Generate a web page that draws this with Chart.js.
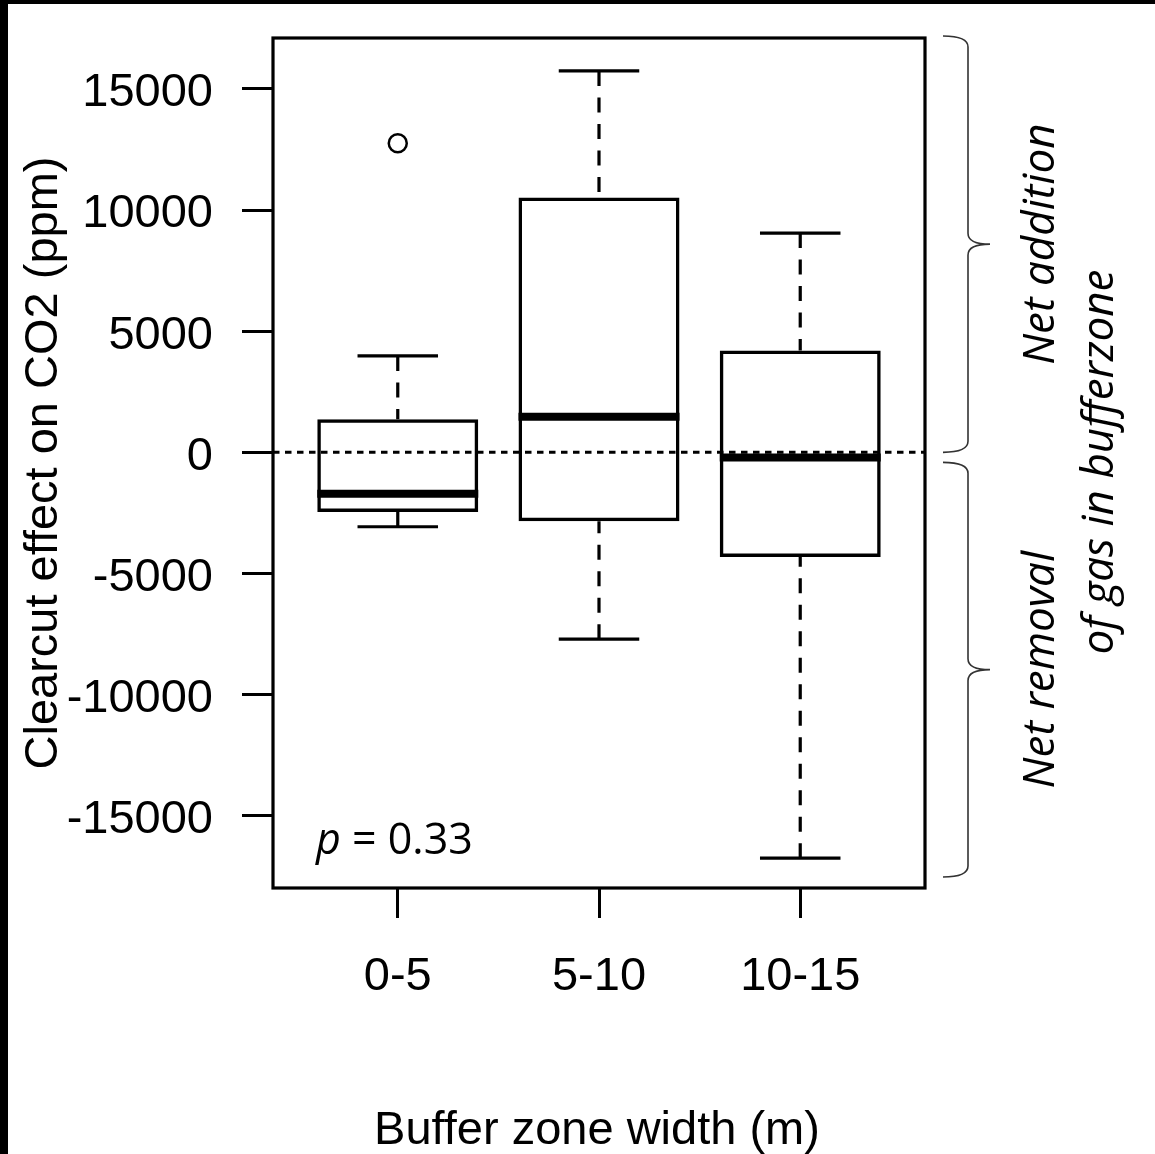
<!DOCTYPE html>
<html>
<head>
<meta charset="utf-8">
<title>Clearcut effect on CO2</title>
<script src="https://cdn.jsdelivr.net/npm/chart.js@4.4.1/dist/chart.umd.min.js"></script>
<style>
  html, body { margin: 0; padding: 0; background: #fff; }
  canvas { display: block; }
</style>
</head>
<body>
<canvas id="boxChart" width="1155" height="1154"></canvas>
<script>
// values (ppm)
var categories = ['0-5', '5-10', '10-15'];
var whiskerLow = [-3070, -7710, -16750];
var q1 = [-2460, -2840, -4320];
var medians = [-1710, 1470, -210];
var q3 = [1370, 10520, 4200];
var whiskerHigh = [3980, 15740, 9050];
var outlierGroup = [1];
var outlierValue = [12760];
var yTicks = [-15000, -10000, -5000, 0, 5000, 10000, 15000];

var axisFont = 'Liberation Sans, Arial, sans-serif';
var noteFont = '"Open Sans", "Noto Sans", sans-serif';

function seg(ctx, x1, y1, x2, y2) {
    ctx.beginPath();
    ctx.moveTo(x1, y1);
    ctx.lineTo(x2, y2);
    ctx.stroke();
}

function brace(ctx, x0, xv, xt, yTop, yBot) {
    var r = 11;
    var yTip = (yTop + yBot) / 2;
    ctx.beginPath();
    ctx.moveTo(x0, yTop);
    ctx.quadraticCurveTo(xv, yTop, xv, yTop + r);
    ctx.lineTo(xv, yTip - r);
    ctx.quadraticCurveTo(xv, yTip, xt, yTip);
    ctx.quadraticCurveTo(xv, yTip, xv, yTip + r);
    ctx.lineTo(xv, yBot - r);
    ctx.quadraticCurveTo(xv, yBot, x0, yBot);
    ctx.stroke();
}

function noPadding(s) {
    s.paddingTop = 0;
    s.paddingBottom = 0;
    s.paddingLeft = 0;
    s.paddingRight = 0;
}

// page background with the black edge of the original scan
var background = {
    id: 'background',
    beforeDraw: function (chart) {
        var ctx = chart.ctx;
        ctx.save();
        ctx.fillStyle = '#fff';
        ctx.fillRect(0, 0, chart.width, chart.height);
        ctx.fillStyle = '#000';
        ctx.fillRect(0, 0, chart.width, 4);
        ctx.fillRect(0, 0, 8, chart.height);
        ctx.restore();
    }
};

// whiskers, caps, medians and the zero line
var boxParts = {
    id: 'boxParts',
    afterDatasetsDraw: function (chart) {
        var ctx = chart.ctx;
        var x = chart.scales.x, y = chart.scales.y;
        var bars = chart.getDatasetMeta(0).data;
        ctx.save();
        ctx.strokeStyle = '#000';
        ctx.lineCap = 'butt';
        categories.forEach(function (c, i) {
            var cx = x.getPixelForValue(i + 1);
            var half = bars[i].width / 2;
            var yHi = y.getPixelForValue(whiskerHigh[i]);
            var yLo = y.getPixelForValue(whiskerLow[i]);
            ctx.lineWidth = 3.2;
            ctx.setLineDash([15, 11.5]);
            seg(ctx, cx, yHi, cx, y.getPixelForValue(q3[i]));
            seg(ctx, cx, yLo, cx, y.getPixelForValue(q1[i]));
            ctx.setLineDash([]);
            seg(ctx, cx - half / 2, yHi, cx + half / 2, yHi);
            seg(ctx, cx - half / 2, yLo, cx + half / 2, yLo);
            ctx.lineWidth = 8;
            var ym = y.getPixelForValue(medians[i]);
            seg(ctx, cx - half, ym, cx + half, ym);
        });
        var area = chart.chartArea;
        var y0 = y.getPixelForValue(0);
        ctx.lineWidth = 3;
        ctx.setLineDash([6.5, 5.5]);
        seg(ctx, area.left, y0, area.right, y0);
        ctx.restore();
    }
};

// frame, axis titles, p value and the side notes
var annotations = {
    id: 'annotations',
    afterDraw: function (chart) {
        var ctx = chart.ctx;
        var area = chart.chartArea;
        var y0 = chart.scales.y.getPixelForValue(0);
        ctx.save();
        ctx.strokeStyle = '#000';
        ctx.lineWidth = 3.2;
        ctx.strokeRect(area.left, area.top, area.right - area.left, area.bottom - area.top);

        ctx.fillStyle = '#000';
        ctx.font = '47px ' + axisFont;
        ctx.textAlign = 'center';
        ctx.textBaseline = 'alphabetic';
        ctx.fillText('Buffer zone width (m)', 597, 1144);

        ctx.save();
        ctx.translate(57, (area.top + area.bottom) / 2);
        ctx.rotate(-Math.PI / 2);
        ctx.fillText('Clearcut effect on CO2 (ppm)', 0, 0);
        ctx.restore();

        // p = 0.33
        ctx.textAlign = 'left';
        var px = area.left + 43, py = area.bottom - 34;
        ctx.font = 'italic 43px ' + noteFont;
        ctx.fillText('p', px, py);
        var w = ctx.measureText('p').width;
        ctx.font = '43px ' + noteFont;
        ctx.fillText(' = 0.33', px + w, py);

        // braces
        ctx.strokeStyle = '#333';
        ctx.lineWidth = 1.6;
        brace(ctx, area.right + 18, area.right + 43, area.right + 65, area.top - 2, y0);
        brace(ctx, area.right + 18, area.right + 43, area.right + 65, y0 + 10, area.bottom - 11);

        ctx.font = 'italic 44px ' + noteFont;
        ctx.textAlign = 'center';
        var notes = [
            ['Net addition', 1054, (area.top - 2 + y0) / 2],
            ['of gas in bufferzone', 1113, 462],
            ['Net removal', 1054, (y0 + 10 + area.bottom - 11) / 2]
        ];
        notes.forEach(function (n) {
            ctx.save();
            ctx.translate(n[1], n[2]);
            ctx.rotate(-Math.PI / 2);
            ctx.fillText(n[0], 0, 0);
            ctx.restore();
        });
        ctx.restore();
    }
};

var ctx = document.getElementById('boxChart').getContext('2d');
var boxChart = new Chart(ctx, {
    type: 'bar',
    data: {
        datasets: [{
            type: 'bar',
            data: categories.map(function (c, i) { return { x: i + 1, y: [q1[i], q3[i]] }; }),
            backgroundColor: 'rgba(0,0,0,0)',
            borderColor: '#000',
            borderWidth: 3.5,
            borderSkipped: false,
            barPercentage: 0.8,
            categoryPercentage: 1.0,
            order: 2
        }, {
            type: 'scatter',
            data: outlierGroup.map(function (g, i) { return { x: g, y: outlierValue[i] }; }),
            pointStyle: 'circle',
            pointRadius: 9,
            borderWidth: 2.5,
            borderColor: '#000',
            backgroundColor: 'rgba(0,0,0,0)',
            order: 1
        }]
    },
    options: {
        responsive: false,
        animation: false,
        events: [],
        layout: { padding: { left: 0, top: 38, right: 230, bottom: 0 } },
        plugins: { legend: { display: false }, tooltip: { enabled: false } },
        scales: {
            x: {
                type: 'linear',
                offset: false,
                min: 0.38,
                max: 3.62,
                afterBuildTicks: function (s) {
                    s.ticks = categories.map(function (c, i) { return { value: i + 1 }; });
                },
                afterFit: function (s) { s.height = 266; noPadding(s); },
                ticks: {
                    callback: function (v, i) { return categories[i]; },
                    font: { family: axisFont, size: 47 },
                    color: '#000',
                    padding: 31,
                    maxRotation: 0,
                    autoSkip: false
                },
                grid: { offset: false, drawOnChartArea: false, drawTicks: true, tickLength: 30, tickWidth: 3, tickColor: '#000' },
                border: { display: false }
            },
            y: {
                min: -17980,
                max: 17100,
                afterBuildTicks: function (s) {
                    s.ticks = yTicks.map(function (v) { return { value: v }; });
                },
                afterFit: function (s) { s.width = 273; noPadding(s); },
                ticks: {
                    callback: function (v) { return String(v); },
                    font: { family: axisFont, size: 47 },
                    color: '#000',
                    padding: 29,
                    labelOffset: 4.5,
                    autoSkip: false
                },
                grid: { drawOnChartArea: false, drawTicks: true, tickLength: 31, tickWidth: 3, tickColor: '#000' },
                border: { display: false }
            }
        }
    },
    plugins: [background, boxParts, annotations]
});
</script>
</body>
</html>
